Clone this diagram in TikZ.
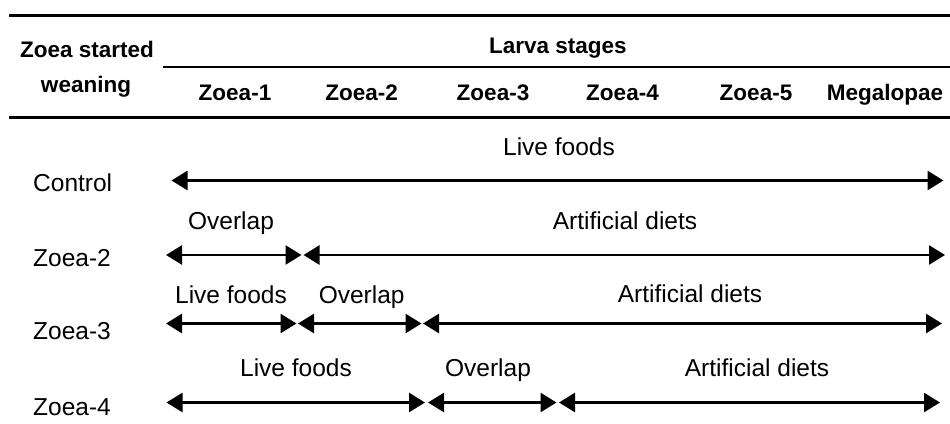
\documentclass[tikz,border=0pt]{standalone}
\usepackage{fontspec}
\setmainfont{Liberation Sans}
\usetikzlibrary{arrows.meta}
\tikzset{
  hd/.style={anchor=base, inner sep=0pt, font=\bfseries\fontsize{22.5}{27}\selectfont},
  lbl/.style={anchor=base, inner sep=0pt, font=\fontsize{24.5}{29}\selectfont},
  rowlbl/.style={anchor=base west, inner sep=0pt, font=\fontsize{24.5}{29}\selectfont},
  rule/.style={line width=2.8pt},
  thinrule/.style={line width=2pt},
  span/.style={line width=2.7pt, {Triangle[length=16pt,width=19pt]}-{Triangle[length=16pt,width=19pt]}}
}
\begin{document}
\begin{tikzpicture}[x=1pt,y=-1pt]
\useasboundingbox (0,0) rectangle (950,423);
% rules
\coordinate (r1a) at (9,15.3);   \coordinate (r1b) at (950,15.3);
\coordinate (r2a) at (163,66.7); \coordinate (r2b) at (950,66.7);
\coordinate (r3a) at (9,117.7);  \coordinate (r3b) at (950,117.7);
\draw[rule] (r1a) -- (r1b);
\draw[thinrule] (r2a) -- (r2b);
\draw[rule] (r3a) -- (r3b);
% header
\node[hd] (h1) at (87,57) {Zoea started};
\node[hd] (h2) at (86,92.5) {weaning};
\node[hd] (ls) at (558,53.3) {Larva stages};
\node[hd] (c1) at (235,100.7) {Zoea-1};
\node[hd] (c2) at (361.7,100.7) {Zoea-2};
\node[hd] (c3) at (493,100.7) {Zoea-3};
\node[hd] (c4) at (622.5,100.7) {Zoea-4};
\node[hd] (c5) at (756,100.7) {Zoea-5};
\node[hd] (c6) at (885,100.7) {Megalopae};
% row labels
\node[rowlbl] (rc) at (33,191.7) {Control};
\node[rowlbl] (r2) at (33,266) {Zoea-2};
\node[rowlbl] (r3) at (33,339.3) {Zoea-3};
\node[rowlbl] (r4) at (33,415) {Zoea-4};
% row 1
\coordinate (a1s) at (171.5,180.5); \coordinate (a1e) at (943.5,180.5);
\draw[span] (a1s) -- (a1e);
\node[lbl] (t1) at (559,155) {Live foods};
% row 2
\coordinate (a2s) at (166,255); \coordinate (a2m) at (301.5,255);
\coordinate (a2n) at (303.5,255); \coordinate (a2e) at (945,255);
\draw[span] (a2s) -- (a2m);
\draw[span] (a2n) -- (a2e);
\node[lbl] (t2a) at (231,229.3) {Overlap};
\node[lbl] (t2b) at (625,229) {Artificial diets};
% row 3
\coordinate (a3s) at (166,323.5); \coordinate (a3m) at (296.5,323.5);
\coordinate (a3n) at (298,323.5); \coordinate (a3o) at (421.5,323.5);
\coordinate (a3p) at (423,323.5); \coordinate (a3e) at (942,323.5);
\draw[span] (a3s) -- (a3m);
\draw[span] (a3n) -- (a3o);
\draw[span] (a3p) -- (a3e);
\node[lbl] (t3a) at (231,303.3) {Live foods};
\node[lbl] (t3b) at (361.7,303) {Overlap};
\node[lbl] (t3c) at (690,302.7) {Artificial diets};
% row 4
\coordinate (a4s) at (166.5,402.5); \coordinate (a4m) at (425,402.5);
\coordinate (a4n) at (428,402.5); \coordinate (a4o) at (556.5,402.5);
\coordinate (a4p) at (559,402.5); \coordinate (a4e) at (940,402.5);
\draw[span] (a4s) -- (a4m);
\draw[span] (a4n) -- (a4o);
\draw[span] (a4p) -- (a4e);
\node[lbl] (t4a) at (296,376) {Live foods};
\node[lbl] (t4b) at (488,376.5) {Overlap};
\node[lbl] (t4c) at (757,376.7) {Artificial diets};
\end{tikzpicture}
\end{document}
